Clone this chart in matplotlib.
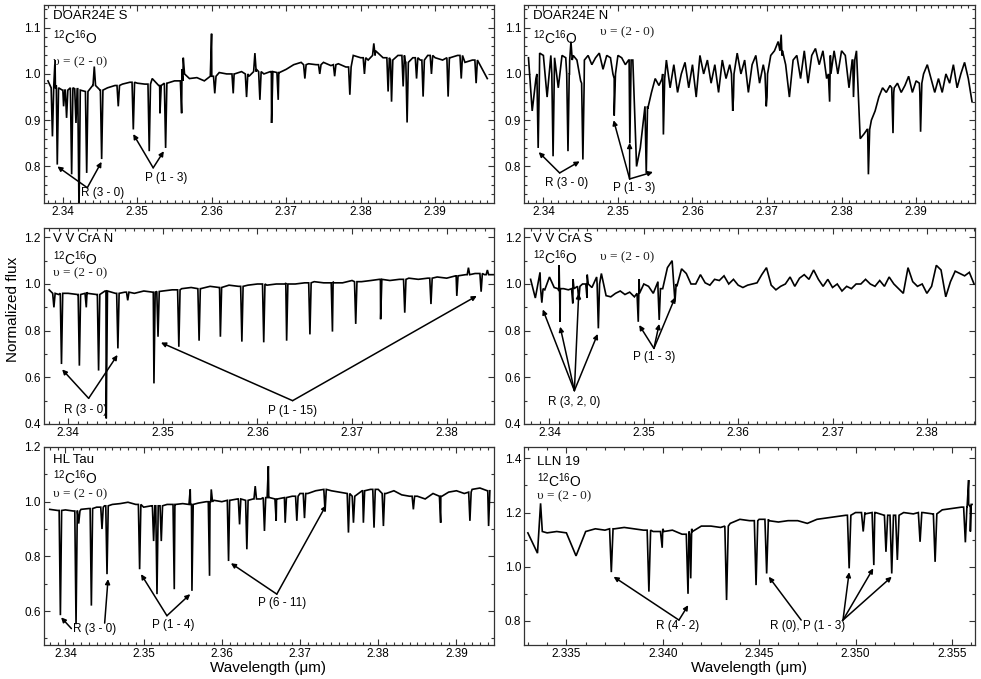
import numpy as np
import matplotlib
matplotlib.use('Agg')
import matplotlib.pyplot as plt
from matplotlib.ticker import MultipleLocator, FormatStrFormatter

plt.rcParams['font.family'] = ['Liberation Sans', 'DejaVu Sans']
plt.rcParams['mathtext.fontset'] = 'custom'
plt.rcParams['mathtext.rm'] = 'Liberation Sans'
plt.rcParams['mathtext.it'] = 'Liberation Sans:italic'

# ---------------- DATA ----------------
# continuum samples on a regular wavelength grid: start, step, values
p1_start, p1_step = 2.338, 0.001
p1_cont = [0.985, 0.97, 0.965, 0.97, 0.968, 0.962, 0.975, 0.965, 0.97, 0.975,
           0.978, 0.982, 0.98, 0.978, 0.99, 0.975, 0.98, 0.985, 1.01, 0.99,
           0.992, 0.985, 0.995, 1.003, 1.0, 1.0, 1.005, 0.995, 1.01, 1.0,
           1.005, 1.003, 1.01, 1.02, 1.025, 1.022, 1.02, 1.025, 1.018, 1.022,
           1.015, 1.04, 1.035, 1.03, 1.05, 1.035, 1.03, 1.04, 1.025, 1.035,
           1.03, 1.04, 1.035, 1.03, 1.035, 1.04, 1.025, 1.03, 1.02, 0.99]
# spectral features: (wavelength, local level, extreme value)
p1_feat = [(2.3386, 0.97, 0.865), (2.33895, 0.975, 1.03), (2.33925, 0.97, 0.804),
           (2.3401, 0.965, 0.93), (2.3405, 0.965, 0.905), (2.34118, 0.97, 0.783),
           (2.34176, 0.968, 0.894), (2.34217, 0.965, 0.70), (2.3432, 0.962, 0.786),
           (2.34422, 0.975, 1.016), (2.34521, 0.965, 0.816), (2.34744, 0.975, 0.93),
           (2.34946, 0.982, 0.88), (2.3516, 0.978, 0.833), (2.35304, 0.975, 0.915),
           (2.3538, 0.98, 0.84), (2.35595, 0.985, 0.915), (2.35617, 1.0, 1.035),
           (2.35997, 0.995, 1.087), (2.3604, 0.995, 0.958), (2.36288, 1.0, 0.958),
           (2.36467, 1.0, 0.95), (2.36579, 1.005, 1.045), (2.36646, 1.005, 0.944),
           (2.36803, 1.005, 0.894), (2.36892, 1.003, 0.944), (2.3725, 1.02, 0.99),
           (2.3745, 1.02, 1.0), (2.3765, 1.02, 0.995), (2.37854, 1.015, 0.955),
           (2.3805, 1.035, 1.0), (2.38176, 1.04, 1.066), (2.38368, 1.035, 0.962),
           (2.38414, 1.03, 0.94), (2.3857, 1.04, 0.973), (2.38623, 1.025, 0.895),
           (2.3875, 1.035, 0.99), (2.38838, 1.03, 0.951), (2.3895, 1.04, 1.0),
           (2.39174, 1.035, 0.951), (2.3935, 1.04, 0.99), (2.3955, 1.03, 0.98)]

p2_start, p2_step = 2.338, 0.0005
p2_cont = [1.035, 0.92, 0.99, 1.045, 1.04, 0.95, 1.04, 1.035, 0.97, 1.04,
           1.035, 1.0, 1.04, 1.03, 0.985, 1.03, 1.04, 1.02, 1.035, 1.045,
           1.01, 1.04, 1.035, 0.99, 1.04, 1.035, 1.02, 1.03, 1.03, 0.80,
           0.84, 0.91, 0.925, 0.96, 0.99, 0.975, 1.0, 1.03, 0.97, 1.02,
           0.96, 1.0, 1.025, 0.97, 1.02, 0.95, 1.04, 1.0, 1.03, 0.98,
           1.02, 0.96, 1.03, 0.99, 1.02, 0.95, 1.045, 1.0, 1.03, 0.96,
           1.02, 1.04, 0.98, 1.02, 0.95, 1.04, 1.05, 1.07, 1.04, 1.02,
           0.95, 1.03, 1.04, 0.99, 1.05, 0.98, 1.04, 1.055, 1.02, 1.05,
           0.99, 1.04, 1.05, 1.0, 1.05, 1.04, 0.97, 1.03, 1.05, 0.86,
           0.87, 0.88, 0.90, 0.92, 0.95, 0.97, 0.96, 0.975, 0.96, 0.98,
           0.96, 0.975, 0.995, 0.96, 0.985, 0.96, 1.0, 1.02, 0.99, 0.96,
           0.99, 0.96, 1.0, 0.98, 1.02, 0.97, 1.0, 1.025, 0.99, 0.94]
p2_feat = [(2.3393, 1.0, 0.84), (2.3413, 1.0, 0.822), (2.3433, 1.0, 0.833),
           (2.3437, 1.03, 1.07), (2.3453, 0.98, 0.815), (2.3495, 1.0, 0.91),
           (2.3516, 1.03, 0.85), (2.3538, 0.93, 0.785), (2.3561, 0.99, 0.869),
           (2.3654, 1.0, 0.92), (2.3699, 1.0, 0.93), (2.3719, 1.05, 1.085),
           (2.3784, 1.0, 0.94), (2.3816, 1.03, 0.95), (2.3836, 0.88, 0.783),
           (2.3869, 0.97, 0.872), (2.3906, 0.98, 0.875)]

p3_start, p3_step = 2.338, 0.001
p3_cont = [0.975, 0.955, 0.96, 0.955, 0.965, 0.955, 0.97, 0.96, 0.965, 0.96,
           0.97, 0.965, 0.97, 0.975, 0.98, 0.985, 0.98, 0.99, 0.985, 0.995,
           0.99, 0.995, 1.0, 0.995, 1.0, 1.005, 1.0, 1.005, 1.01, 1.005,
           1.01, 1.005, 1.015, 1.01, 1.015, 1.02, 1.015, 1.02, 1.025, 1.02,
           1.025, 1.03, 1.025, 1.035, 1.04, 1.045, 1.04, 1.04]
p3_feat = [(2.3385, 0.96, 0.90), (2.3393, 0.96, 0.657), (2.34119, 0.955, 0.65),
           (2.34192, 0.96, 0.90), (2.34322, 0.955, 0.629), (2.34403, 0.97, 0.424),
           (2.34526, 0.96, 0.724), (2.3463, 0.965, 0.93), (2.34907, 0.965, 0.574),
           (2.3495, 0.968, 0.774), (2.3517, 0.975, 0.731), (2.35384, 0.98, 0.757),
           (2.35609, 0.985, 0.774), (2.35836, 0.99, 0.753), (2.36067, 1.0, 0.75),
           (2.36309, 1.0, 0.757), (2.36555, 1.005, 0.784), (2.36793, 1.005, 0.796),
           (2.37039, 1.01, 0.829), (2.37302, 1.02, 0.849), (2.37557, 1.02, 0.877),
           (2.37834, 1.025, 0.914), (2.38107, 1.035, 0.949), (2.3823, 1.04, 1.07),
           (2.38364, 1.045, 0.967), (2.3843, 1.04, 1.06)]

p4_start, p4_step = 2.338, 0.0005
p4_cont = [1.02, 0.94, 1.05, 0.975, 1.03, 0.985, 0.97, 0.98, 0.975, 1.02,
           0.98, 1.0, 1.04, 0.985, 1.03, 1.045, 0.95, 0.945, 0.96, 0.97,
           0.955, 0.965, 0.945, 1.02, 1.0, 0.99, 0.96, 1.01, 0.98, 1.07,
           1.10, 0.99, 1.065, 1.045, 1.0, 1.0, 1.04, 1.005, 0.995, 1.02,
           1.015, 1.035, 1.0, 1.02, 0.995, 0.985, 0.995, 1.0, 1.005, 1.04,
           1.07, 0.995, 0.975, 0.99, 1.0, 1.03, 0.99, 1.025, 1.04, 1.02,
           1.06, 1.02, 0.99, 1.02, 0.985, 1.0, 0.97, 0.99, 0.98, 1.0,
           1.0, 1.02, 1.0, 0.99, 1.015, 0.99, 1.03, 1.0, 0.98, 0.96,
           1.07, 1.01, 0.99, 1.0, 0.96, 0.99, 1.08, 1.06, 0.945, 1.01,
           1.055, 1.045, 1.035, 1.05, 1.0]
p4_feat = [(2.33919, 0.98, 0.92), (2.34102, 0.98, 1.08), (2.34113, 0.98, 0.838),
           (2.34247, 0.98, 0.917), (2.3431, 0.99, 0.93), (2.34398, 1.0, 0.94),
           (2.34518, 1.0, 0.81), (2.34941, 0.96, 0.838), (2.35163, 0.98, 0.846),
           (2.3533, 1.0, 0.924)]

p5_start, p5_step = 2.338, 0.001
p5_cont = [0.972, 0.968, 0.97, 0.966, 0.972, 0.975, 0.98, 0.985, 0.99, 0.993,
           0.998, 0.99, 0.98, 0.985, 0.985, 0.99, 0.99, 0.993, 0.99, 0.995,
           1.0, 1.005, 1.0, 1.005, 1.01, 1.005, 1.01, 1.01, 1.015, 1.01,
           1.015, 1.02, 1.03, 1.03, 1.04, 1.045, 1.04, 1.035, 1.03, 1.02,
           1.04, 1.045, 1.045, 1.03, 1.04, 1.025, 1.02, 1.02, 1.01, 1.03,
           1.02, 1.035, 1.04, 1.03, 1.045, 1.05, 1.04]
p5_feat = [(2.33936, 0.968, 0.585), (2.34136, 0.966, 0.552), (2.3417, 0.966, 0.92),
           (2.34332, 0.975, 0.62), (2.34468, 0.98, 0.90), (2.34532, 0.985, 0.735),
           (2.34949, 0.99, 0.753), (2.35128, 0.985, 0.856), (2.35171, 0.985, 0.662),
           (2.35226, 0.985, 0.856), (2.35392, 0.99, 0.68), (2.35596, 0.99, 1.045),
           (2.35618, 0.99, 0.674), (2.35843, 1.0, 0.729), (2.35865, 1.0, 1.045),
           (2.36086, 1.005, 0.783), (2.36227, 1.01, 0.917), (2.3632, 1.005, 0.826),
           (2.36427, 1.01, 1.057), (2.36545, 1.015, 0.893), (2.36595, 1.015, 1.13),
           (2.36695, 1.01, 0.93), (2.3681, 1.015, 0.923), (2.36959, 1.02, 0.93),
           (2.37057, 1.03, 0.94), (2.3732, 1.045, 0.965), (2.37619, 1.03, 0.887),
           (2.37683, 1.02, 0.923), (2.3781, 1.04, 0.923), (2.37946, 1.045, 0.905),
           (2.38066, 1.03, 0.911), (2.38449, 1.02, 0.972), (2.38798, 1.02, 0.923),
           (2.39172, 1.035, 0.93), (2.39411, 1.04, 0.911)]

p6_start, p6_step = 2.333, 0.0005
p6_cont = [1.125, 1.05, 1.125, 1.13, 1.125, 1.04, 1.13, 1.14, 1.135, 1.14,
           1.145, 1.14, 1.135, 1.13, 1.14, 1.135, 1.12, 1.14, 1.15, 1.15,
           1.145, 1.16, 1.175, 1.17, 1.175, 1.17, 1.165, 1.17, 1.17, 1.16,
           1.175, 1.18, 1.185, 1.19, 1.2, 1.195, 1.2, 1.19, 1.19, 1.2,
           1.195, 1.2, 1.195, 1.21, 1.215, 1.22, 1.23]
p6_feat = [(2.33366, 1.13, 1.234), (2.33733, 1.14, 0.98), (2.33928, 1.135, 0.908),
           (2.33997, 1.13, 1.07), (2.34131, 1.12, 0.90), (2.34145, 1.13, 0.957),
           (2.34331, 1.15, 0.877), (2.34484, 1.17, 0.932), (2.34539, 1.175, 0.975),
           (2.34967, 1.19, 0.994), (2.3504, 1.2, 1.13), (2.35095, 1.2, 1.006),
           (2.35158, 1.19, 1.055), (2.35188, 1.19, 0.975), (2.35217, 1.19, 1.025),
           (2.35335, 1.2, 1.092), (2.35413, 1.195, 1.018), (2.3557, 1.22, 1.09),
           (2.35587, 1.22, 1.32), (2.35596, 1.23, 1.13)]

names = ['DOAR24E S', 'DOAR24E N', 'V V CrA N', 'V V CrA S', 'HL Tau', 'LLN 19']
molecule = r'$^{12}$C$^{16}$O'
band = 'υ = (2 - 0)'

# ---------------- LAYOUT ----------------
W, H = 981, 679
cols = [(43.5, 494.0), (524.0, 975.0)]
rows = [(5, 203), (228, 424), (447, 645)]

def rect(c, r):
    x0, x1 = cols[c]
    y0, y1 = rows[r]
    return [x0 / W, 1 - y1 / H, (x1 - x0) / W, (y1 - y0) / H]

def build(start, step, cont, feats, hw):
    wl = start + step * np.arange(len(cont))
    x = list(wl)
    y = list(cont)
    for lam, base, ext in feats:
        x += [lam - hw, lam, lam + hw]
        y += [base, ext, base]
    order = np.argsort(x, kind='stable')
    return np.array(x)[order], np.array(y)[order]

panels = [
    dict(pos=(0, 0), data=(p1_start, p1_step, p1_cont, p1_feat), hw=0.00017,
         xlim=(2.3374, 2.3979), ylim=(0.721, 1.149), xmaj=0.01, xmin=0.001,
         ymaj=0.1, ymin=0.02, xfmt='%.2f', yfmt='%.1f',
         txt=[(0.945, 0.021), (0.835, 0.021), (0.712, 0.021)],
         ann=[('R (3 - 0)', (2.3454, 0.743), [((2.34328, 0.754), (2.33926, 0.80)),
                                                ((2.34328, 0.754), (2.3452, 0.81))]),
              ('P (1 - 3)', (2.35392, 0.776), [((2.35213, 0.797), (2.34945, 0.87)),
                                                ((2.35213, 0.797), (2.35356, 0.833))])]),
    dict(pos=(1, 0), data=(p2_start, p2_step, p2_cont, p2_feat), hw=0.00017,
         xlim=(2.3374, 2.3979), ylim=(0.721, 1.149), xmaj=0.01, xmin=0.001,
         ymaj=0.1, ymin=0.02, xfmt='%.2f', yfmt='%.1f',
         txt=[(0.945, 0.02), (0.835, 0.02), (0.862, 0.168)],
         ann=[('R (3 - 0)', (2.34317, 0.765), [((2.34218, 0.786), (2.33937, 0.831)),
                                                ((2.34218, 0.786), (2.34487, 0.811))]),
              ('P (1 - 3)', (2.35224, 0.754), [((2.35157, 0.773), (2.34942, 0.90)),
                                                ((2.35157, 0.773), (2.35157, 0.851)),
                                                ((2.35157, 0.773), (2.3547, 0.788))])]),
    dict(pos=(0, 1), data=(p3_start, p3_step, p3_cont, p3_feat), hw=0.00013,
         xlim=(2.3374, 2.3850), ylim=(0.4, 1.24), xmaj=0.01, xmin=0.001,
         ymaj=0.2, ymin=0.1, xfmt='%.2f', yfmt='%.1f',
         txt=[(0.944, 0.021), (0.842, 0.021), (0.77, 0.021)],
         ann=[('R (3 - 0)', (2.34182, 0.46), [((2.34217, 0.51), (2.33937, 0.634)),
                                               ((2.34217, 0.51), (2.34522, 0.696))]),
              ('P (1 - 15)', (2.36372, 0.457), [((2.36372, 0.50), (2.34981, 0.749)),
                                                 ((2.36372, 0.50), (2.38318, 0.949))])]),
    dict(pos=(1, 1), data=(p4_start, p4_step, p4_cont, p4_feat), hw=0.00013,
         xlim=(2.3373, 2.3851), ylim=(0.4, 1.24), xmaj=0.01, xmin=0.001,
         ymaj=0.2, ymin=0.1, xfmt='%.2f', yfmt='%.1f',
         txt=[(0.944, 0.02), (0.847, 0.02), (0.852, 0.168)],
         ann=[('R (3, 2, 0)', (2.34264, 0.496), [((2.34264, 0.543), (2.33929, 0.891)),
                                                  ((2.34264, 0.543), (2.34113, 0.817)),
                                                  ((2.34264, 0.543), (2.3431, 0.96)),
                                                  ((2.34264, 0.543), (2.34511, 0.786))]),
              ('P (1 - 3)', (2.3511, 0.686), [((2.35107, 0.724), (2.34951, 0.824)),
                                               ((2.35107, 0.724), (2.35163, 0.829)),
                                               ((2.35107, 0.724), (2.35332, 0.943))])]),
    dict(pos=(0, 2), data=(p5_start, p5_step, p5_cont, p5_feat), hw=0.00016,
         xlim=(2.3372, 2.3948), ylim=(0.476, 1.2), xmaj=0.01, xmin=0.001,
         ymaj=0.2, ymin=0.1, xfmt='%.2f', yfmt='%.1f',
         txt=[(0.934, 0.021), (0.843, 0.021), (0.763, 0.021)],
         ann=[('R (3 - 0)', (2.34374, 0.536), [((2.34077, 0.536), (2.33945, 0.577)),
                                                ((2.34502, 0.556), (2.34545, 0.717))]),
              ('P (1 - 4)', (2.35383, 0.549), [((2.35298, 0.583), (2.34967, 0.735)),
                                                ((2.35298, 0.583), (2.35596, 0.662))]),
              ('P (6 - 11)', (2.36767, 0.628), [((2.36703, 0.662), (2.36116, 0.775)),
                                                 ((2.36703, 0.662), (2.37333, 0.987))])]),
    dict(pos=(1, 2), data=(p6_start, p6_step, p6_cont, p6_feat), hw=0.00009,
         xlim=(2.3328, 2.3562), ylim=(0.711, 1.442), xmaj=0.005, xmin=0.001,
         ymaj=0.2, ymin=0.1, xfmt='%.3f', yfmt='%.1f',
         txt=[(0.924, 0.029), (0.828, 0.029), (0.753, 0.029)],
         ann=[('R (4 - 2)', (2.34075, 0.782), [((2.34084, 0.803), (2.33745, 0.963)),
                                                ((2.34084, 0.803), (2.34132, 0.858))]),
              ('R (0), P (1 - 3)', (2.34753, 0.782), [((2.34718, 0.803), (2.3455, 0.963)),
                                                       ((2.34935, 0.803), (2.34967, 0.98)),
                                                       ((2.34935, 0.803), (2.35092, 0.994)),
                                                       ((2.34935, 0.803), (2.35188, 0.963))])]),
]

fig = plt.figure(figsize=(W / 100, H / 100), dpi=100)
spine_col = '#333333'
for k, p in enumerate(panels):
    ax = fig.add_axes(rect(*p['pos']))
    x, y = build(*p['data'], p['hw'])
    ax.plot(x, y, color='black', lw=1.2, solid_joinstyle='miter')
    ax.set_xlim(*p['xlim'])
    ax.set_ylim(*p['ylim'])
    ax.xaxis.set_major_locator(MultipleLocator(p['xmaj']))
    ax.xaxis.set_minor_locator(MultipleLocator(p['xmin']))
    ax.yaxis.set_major_locator(MultipleLocator(p['ymaj']))
    ax.yaxis.set_minor_locator(MultipleLocator(p['ymin']))
    ax.xaxis.set_major_formatter(FormatStrFormatter(p['xfmt']))
    ax.yaxis.set_major_formatter(FormatStrFormatter(p['yfmt']))
    ax.tick_params(which='both', direction='in', top=True, right=True,
                   labelsize=8.5, pad=2, color=spine_col, width=0.8)
    ax.tick_params(which='major', length=4)
    ax.tick_params(which='minor', length=2)
    for s in ax.spines.values():
        s.set_color(spine_col)
        s.set_linewidth(0.9)
    (y1, x1), (y2, x2), (y3, x3) = p['txt']
    ax.text(x1, y1, names[k], transform=ax.transAxes, fontsize=9.5, va='center', ha='left')
    ax.text(x2, y2, molecule, transform=ax.transAxes, fontsize=10, va='center', ha='left')
    ax.text(x3, y3, band, transform=ax.transAxes, fontsize=9.5, va='center', ha='left',
            family=['Liberation Serif', 'DejaVu Serif'], color='#222222')
    for label, txy, arrows in p['ann']:
        ax.text(txy[0], txy[1], label, fontsize=8.5, ha='center', va='center')
        for org, tgt in arrows:
            ax.annotate('', xy=tgt, xytext=org,
                        arrowprops=dict(arrowstyle='-|>', color='black', lw=1.1,
                                        shrinkA=0, shrinkB=0, mutation_scale=7))

fig.text(13 / W, 1 - 309 / H, 'Normalized flux', rotation=90, fontsize=11,
         ha='center', va='center')
fig.text(268 / W, 1 - 668 / H, 'Wavelength (μm)', fontsize=11, ha='center', va='center')
fig.text(749 / W, 1 - 668 / H, 'Wavelength (μm)', fontsize=11, ha='center', va='center')

fig.savefig('out.png', dpi=100)
